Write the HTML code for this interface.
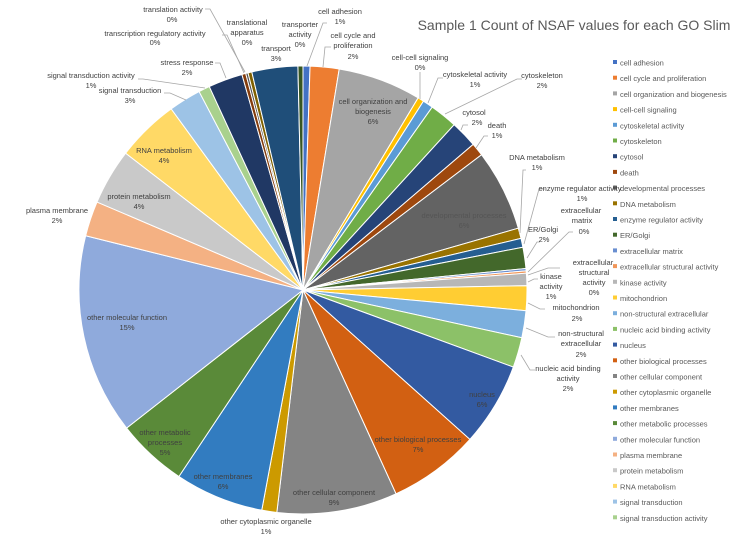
<!DOCTYPE html>
<html><head><meta charset="utf-8"><style>
body{margin:0;background:#fff;}
svg{display:block;font-family:"Liberation Sans",sans-serif;}
.lb{font-size:7.5px;fill:#404040;text-anchor:middle;}
.lg{font-size:7.5px;fill:#595959;}
.ld{stroke:#a6a6a6;stroke-width:0.8;fill:none;}
</style></head><body>
<svg id="chart" width="735" height="543" viewBox="0 0 735 543">
<text x="574" y="30" font-size="14" fill="#595959" text-anchor="middle">Sample 1 Count of NSAF values for each GO Slim</text>
<g id="slices"></g>
<g id="legend"></g>
<g>
<polyline class="ld" points="205,9 210,9 245,72"/>
<polyline class="ld" points="222,35 227,35 244,73"/>
<polyline class="ld" points="327,23 323,23 307,66"/>
<polyline class="ld" points="331,47 325,47 323,67"/>
<polyline class="ld" points="215,63 220,63 226,78"/>
<polyline class="ld" points="138,79 143,79 205,88"/>
<polyline class="ld" points="164,93 170,93 186,100"/>
<polyline class="ld" points="420,72 420,99"/>
<polyline class="ld" points="443,78 438,78 428,103"/>
<polyline class="ld" points="522,79 517,79 445,114"/>
<polyline class="ld" points="468,125 463,125 461,130"/>
<polyline class="ld" points="488,136 484,136 476,148"/>
<polyline class="ld" points="526,170 523,170 520,233"/>
<polyline class="ld" points="545,189 539,189 524,244"/>
<polyline class="ld" points="540,242 537,242 527,258"/>
<polyline class="ld" points="573,232 569,232 528,272"/>
<polyline class="ld" points="560,268 548,268 528,275"/>
<polyline class="ld" points="538,279 534,279 528,282"/>
<polyline class="ld" points="545,309 540,309 528,303"/>
<polyline class="ld" points="555,337 548,337 526,328"/>
<polyline class="ld" points="535,370 530,370 521,355"/>
</g>
<g>
<text class="lb" x="173" y="12">translation activity</text><text class="lb" x="172" y="22">0%</text>
<text class="lb" x="155" y="36">transcription regulatory activity</text><text class="lb" x="155" y="45">0%</text>
<text class="lb" x="247" y="25">translational</text><text class="lb" x="247" y="35">apparatus</text><text class="lb" x="247" y="45">0%</text>
<text class="lb" x="300" y="27">transporter</text><text class="lb" x="300" y="37">activity</text><text class="lb" x="300" y="47">0%</text>
<text class="lb" x="340" y="14">cell adhesion</text><text class="lb" x="340" y="24">1%</text>
<text class="lb" x="353" y="38">cell cycle and</text><text class="lb" x="353" y="48">proliferation</text><text class="lb" x="353" y="59">2%</text>
<text class="lb" x="276" y="51">transport</text><text class="lb" x="276" y="61">3%</text>
<text class="lb" x="187" y="65">stress response</text><text class="lb" x="187" y="75">2%</text>
<text class="lb" x="91" y="78">signal transduction activity</text><text class="lb" x="91" y="88">1%</text>
<text class="lb" x="130" y="93">signal transduction</text><text class="lb" x="130" y="103">3%</text>
<text class="lb" x="373" y="104">cell organization and</text><text class="lb" x="373" y="114">biogenesis</text><text class="lb" x="373" y="124">6%</text>
<text class="lb" x="420" y="60">cell-cell signaling</text><text class="lb" x="420" y="70">0%</text>
<text class="lb" x="475" y="77">cytoskeletal activity</text><text class="lb" x="475" y="87">1%</text>
<text class="lb" x="542" y="78">cytoskeleton</text><text class="lb" x="542" y="88">2%</text>
<text class="lb" x="474" y="115">cytosol</text><text class="lb" x="477" y="125">2%</text>
<text class="lb" x="497" y="128">death</text><text class="lb" x="497" y="138">1%</text>
<text class="lb" x="464" y="218" style="fill:#555">developmental processes</text><text class="lb" x="464" y="228" style="fill:#555">6%</text>
<text class="lb" x="537" y="160">DNA metabolism</text><text class="lb" x="537" y="170">1%</text>
<text class="lb" x="580" y="191">enzyme regulator activity</text><text class="lb" x="582" y="201">1%</text>
<text class="lb" x="581" y="213">extracellular</text><text class="lb" x="582" y="223">matrix</text><text class="lb" x="584" y="234">0%</text>
<text class="lb" x="543" y="232">ER/Golgi</text><text class="lb" x="544" y="242">2%</text>
<text class="lb" x="593" y="265">extracellular</text><text class="lb" x="594" y="275">structural</text><text class="lb" x="594" y="285">activity</text><text class="lb" x="594" y="295">0%</text>
<text class="lb" x="551" y="279">kinase</text><text class="lb" x="551" y="289">activity</text><text class="lb" x="551" y="299">1%</text>
<text class="lb" x="576" y="310">mitochondrion</text><text class="lb" x="577" y="321">2%</text>
<text class="lb" x="581" y="336">non-structural</text><text class="lb" x="581" y="346">extracellular</text><text class="lb" x="581" y="357">2%</text>
<text class="lb" x="568" y="371">nucleic acid binding</text><text class="lb" x="568" y="381">activity</text><text class="lb" x="568" y="391">2%</text>
<text class="lb" x="482" y="397">nucleus</text><text class="lb" x="482" y="407">6%</text>
<text class="lb" x="418" y="442">other biological processes</text><text class="lb" x="418" y="452">7%</text>
<text class="lb" x="334" y="495">other cellular component</text><text class="lb" x="334" y="505">9%</text>
<text class="lb" x="266" y="524">other cytoplasmic organelle</text><text class="lb" x="266" y="534">1%</text>
<text class="lb" x="223" y="479">other membranes</text><text class="lb" x="223" y="489">6%</text>
<text class="lb" x="165" y="435">other metabolic</text><text class="lb" x="165" y="445">processes</text><text class="lb" x="165" y="455">5%</text>
<text class="lb" x="127" y="320">other molecular function</text><text class="lb" x="127" y="330">15%</text>
<text class="lb" x="57" y="213">plasma membrane</text><text class="lb" x="57" y="223">2%</text>
<text class="lb" x="139" y="199">protein metabolism</text><text class="lb" x="139" y="209">4%</text>
<text class="lb" x="164" y="153">RNA metabolism</text><text class="lb" x="164" y="163">4%</text>
</g>
</svg>
<script>
const categories=["cell adhesion","cell cycle and proliferation","cell organization and biogenesis","cell-cell signaling","cytoskeletal activity","cytoskeleton","cytosol","death","developmental processes","DNA metabolism","enzyme regulator activity","ER/Golgi","extracellular matrix","extracellular structural activity","kinase activity","mitochondrion","non-structural extracellular","nucleic acid binding activity","nucleus","other biological processes","other cellular component","other cytoplasmic organelle","other membranes","other metabolic processes","other molecular function","plasma membrane","protein metabolism","RNA metabolism","signal transduction","signal transduction activity","stress response","transcription regulatory activity","translation activity","translational apparatus","transport","transporter activity"];
const values=[1.8,7.5,21.6,1.6,2.7,7.2,7.0,3.4,21.1,2.7,2.3,5.5,0.6,0.6,3.2,6.4,7.0,7.8,21.7,23.6,31.2,3.9,23.0,18.3,52.0,9.1,14.5,16.3,8.4,2.9,8.9,1.0,0.6,1.0,11.9,1.3];
const colors=["#4472C4","#ED7D31","#A5A5A5","#FFC000","#5B9BD5","#70AD47","#264478","#9E480E","#636363","#997300","#255E91","#43682B","#698ED0","#F1975A","#B7B7B7","#FFCD33","#7CAFDD","#8CC168","#335AA1","#D26012","#848484","#CC9A00","#327CC0","#5A8A39","#8FAADC","#F4B183","#C9C9C9","#FFD966","#9DC3E6","#A9D18E","#203864","#843C0C","#525252","#7F6000","#1F4E79","#375623"];
const NS="http://www.w3.org/2000/svg";
const cx=303,cy=290,R=224;
const total=values.reduce((a,b)=>a+b,0);
const g=document.getElementById('slices');
let a0=0;
function pt(a){const r=a*Math.PI/180;return [cx+R*Math.sin(r),cy-R*Math.cos(r)];}
values.forEach((v,i)=>{
  const a1=a0+v/total*360;
  const p0=pt(a0),p1=pt(a1);
  const large=(a1-a0)>180?1:0;
  const p=document.createElementNS(NS,'path');
  p.setAttribute('d',`M${cx},${cy}L${p0[0]},${p0[1]}A${R},${R} 0 ${large} 1 ${p1[0]},${p1[1]}Z`);
  p.setAttribute('fill',colors[i]);
  p.setAttribute('stroke','#fff');
  p.setAttribute('stroke-width','1');
  
  
  g.appendChild(p);
  a0=a1;
});
const lg=document.getElementById('legend');
for(let i=0;i<30;i++){
  const y=63+i*15.7;
  const r=document.createElementNS(NS,'rect');
  r.setAttribute('x',613);r.setAttribute('y',y-3);r.setAttribute('width',4);r.setAttribute('height',4);
  r.setAttribute('fill',colors[i]);
  
  
  lg.appendChild(r);
  const t=document.createElementNS(NS,'text');
  t.setAttribute('x',620);t.setAttribute('y',y+2.5);t.setAttribute('class','lg');
  t.textContent=categories[i];
  
  
  lg.appendChild(t);
}
</script>
</body></html>
